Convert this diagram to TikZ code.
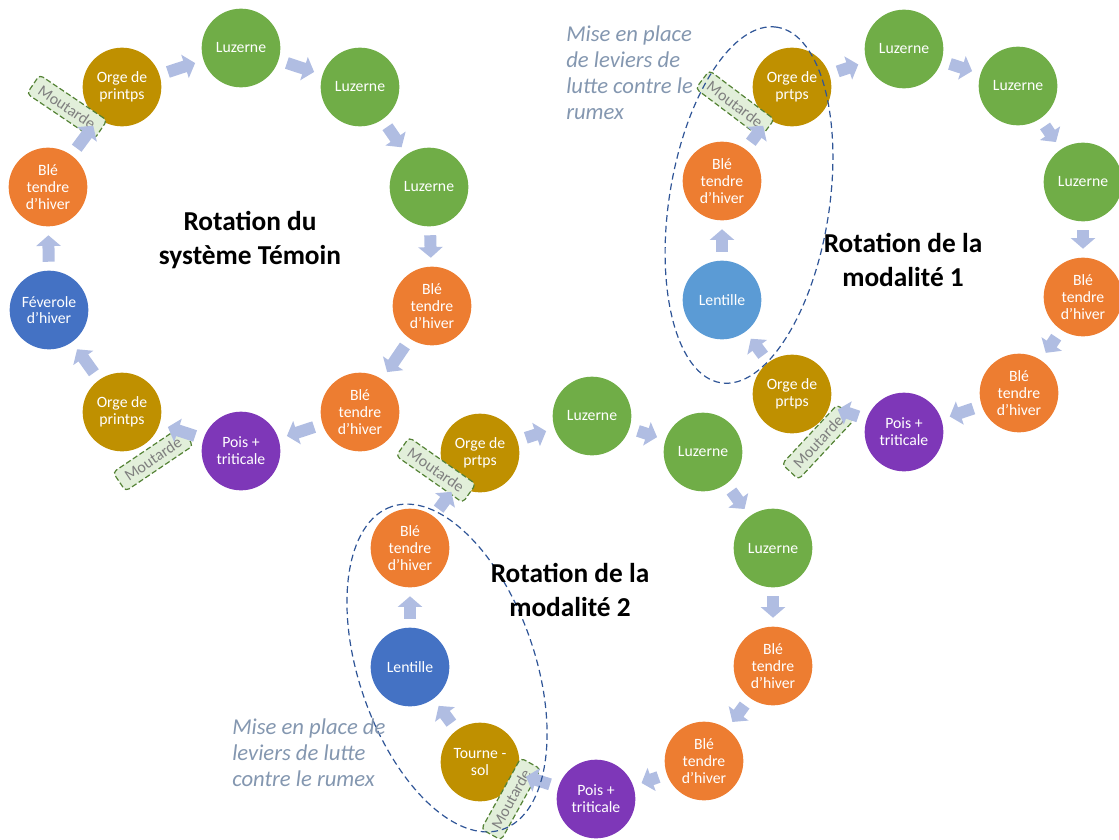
\documentclass[tikz,border=0pt]{standalone}
\usepackage{fontspec}
\setmainfont{Carlito}
\usetikzlibrary{positioning,arrows.meta,shapes.geometric}

\definecolor{c_orange}{HTML}{ED7D31}
\definecolor{c_green}{HTML}{70AD47}
\definecolor{c_gold}{HTML}{BF9000}
\definecolor{c_blue}{HTML}{4472C4}
\definecolor{c_lightblue}{HTML}{5B9BD5}
\definecolor{c_purple}{HTML}{7E37B8}
\definecolor{c_arrow}{HTML}{B0BDE2}
\definecolor{c_mfill}{HTML}{E2EFDA}
\definecolor{c_mborder}{HTML}{548235}
\definecolor{c_mtext}{HTML}{7F7F7F}
\definecolor{c_zone}{HTML}{2F5597}
\definecolor{c_note}{HTML}{8497B0}

\tikzset{
        % Crops of the rotation
        node_crop/.style={circle, fill=#1, text=white, align=center, inner sep=0pt,
            minimum size=59pt, font=\fontsize{11.8}{12.6}\selectfont},
        % Block arrows between crops
        arrow_block/.style={draw=c_arrow, line width=9pt, -{Triangle[width=18pt,length=8pt]},
            shorten <=6.5pt, shorten >=6.5pt},
        % Cover crop (mustard)
        node_moutarde/.style={rectangle, rounded corners=3pt, draw=c_mborder, line width=0.9pt,
            dash pattern=on 4pt off 2pt, fill=c_mfill, text=c_mtext, inner sep=1pt,
            minimum width=61pt, minimum height=17pt, font=\fontsize{12}{12}\selectfont},
        % Dashed zone of the levers
        node_zone/.style={ellipse, draw=c_zone, line width=0.9pt, dash pattern=on 5pt off 3pt,
            inner sep=0pt},
        % Titles and notes
        node_title/.style={align=center, font=\bfseries\fontsize{20.5}{26}\selectfont},
        node_note/.style={align=left, anchor=north west, inner sep=0pt, text=c_note,
            font=\itshape\fontsize{17}{19.5}\selectfont}
}

\begin{document}
\begin{tikzpicture}[x=0.75pt, y=-0.75pt]
    \useasboundingbox (0,0) rectangle (1119,839);

    % Rotation du systeme temoin
    \node[node_crop=c_gold] (t_orge1) at (122,87) {Orge de\\printps};
    \node[node_crop=c_green] (t_luz1) at (241,48) {Luzerne};
    \node[node_crop=c_green] (t_luz2) at (360,87) {Luzerne};
    \node[node_crop=c_green] (t_luz3) at (429,187) {Luzerne};
    \node[node_crop=c_orange] (t_ble1) at (432,306) {Blé\\tendre\\d’hiver};
    \node[node_crop=c_orange] (t_ble2) at (360,412) {Blé\\tendre\\d’hiver};
    \node[node_crop=c_purple] (t_pois) at (241,451) {Pois +\\triticale};
    \node[node_crop=c_gold] (t_orge2) at (122,412) {Orge de\\printps};
    \node[node_crop=c_blue] (t_fev) at (49,310) {Féverole\\d’hiver};
    \node[node_crop=c_orange] (t_ble3) at (48,187) {Blé\\tendre\\d’hiver};

    % Rotation de la modalite 1
    \node[node_crop=c_gold] (a_orge1) at (792,87) {Orge de\\prtps};
    \node[node_crop=c_green] (a_luz1) at (904,49) {Luzerne};
    \node[node_crop=c_green] (a_luz2) at (1018,86) {Luzerne};
    \node[node_crop=c_green] (a_luz3) at (1083,182) {Luzerne};
    \node[node_crop=c_orange] (a_ble1) at (1083,297) {Blé\\tendre\\d’hiver};
    \node[node_crop=c_orange] (a_ble2) at (1019,393) {Blé\\tendre\\d’hiver};
    \node[node_crop=c_purple] (a_pois) at (904,432) {Pois +\\triticale};
    \node[node_crop=c_gold] (a_orge2) at (792,394) {Orge de\\prtps};
    \node[node_crop=c_lightblue] (a_lent) at (722,300) {Lentille};
    \node[node_crop=c_orange] (a_ble3) at (722,181) {Blé\\tendre\\d’hiver};

    % Rotation de la modalite 2
    \node[node_crop=c_gold] (b_orge1) at (480,453) {Orge de\\prtps};
    \node[node_crop=c_green] (b_luz1) at (592,416) {Luzerne};
    \node[node_crop=c_green] (b_luz2) at (703,452) {Luzerne};
    \node[node_crop=c_green] (b_luz3) at (773,548) {Luzerne};
    \node[node_crop=c_orange] (b_ble1) at (773,666) {Blé\\tendre\\d’hiver};
    \node[node_crop=c_orange] (b_ble2) at (704,761) {Blé\\tendre\\d’hiver};
    \node[node_crop=c_purple] (b_pois) at (596,799) {Pois +\\triticale};
    \node[node_crop=c_gold] (b_tourne) at (480,762) {Tourne -\\sol};
    \node[node_crop=c_blue] (b_lent) at (410,667) {Lentille};
    \node[node_crop=c_orange] (b_ble3) at (410,548) {Blé\\tendre\\d’hiver};

    % Moutarde
    \node[node_moutarde, rotate=-34] (m_t1) at (67,107) {Moutarde};
    \node[node_moutarde, rotate=34] (m_t2) at (153,459) {Moutarde};
    \node[node_moutarde, rotate=-35] (m_b1) at (436,470) {Moutarde};
    \node[node_moutarde, rotate=-37] (m_a1) at (735,104) {Moutarde};
    \node[node_moutarde, rotate=47] (m_a2) at (818,442) {Moutarde};
    \node[node_moutarde, rotate=61] (m_b2) at (511,799) {Moutarde};

    % Arrows
    \foreach \from/\to in {t_orge1/t_luz1, t_luz1/t_luz2, t_luz2/t_luz3, t_luz3/t_ble1,
            t_ble1/t_ble2, t_ble2/t_pois, t_pois/t_orge2, t_orge2/t_fev, t_fev/t_ble3, t_ble3/t_orge1}
        \draw[arrow_block] (\from) -- (\to);
    \foreach \from/\to in {a_orge1/a_luz1, a_luz1/a_luz2, a_luz2/a_luz3, a_luz3/a_ble1,
            a_ble1/a_ble2, a_ble2/a_pois, a_pois/a_orge2, a_orge2/a_lent, a_lent/a_ble3, a_ble3/a_orge1}
        \draw[arrow_block] (\from) -- (\to);
    \foreach \from/\to in {b_orge1/b_luz1, b_luz1/b_luz2, b_luz2/b_luz3, b_luz3/b_ble1,
            b_ble1/b_ble2, b_ble2/b_pois, b_pois/b_tourne, b_tourne/b_lent, b_lent/b_ble3, b_ble3/b_orge1}
        \draw[arrow_block] (\from) -- (\to);

    % Zones
    \node[node_zone, minimum width=270pt, minimum height=120pt, rotate=81] (z_a) at (749,205) {};
    \node[node_zone, minimum width=256pt, minimum height=132pt, rotate=109] (z_b) at (447,668) {};

    % Titles
    \node[node_title] (title_t) at (250,240) {Rotation du\\système Témoin};
    \node[node_title] (title_a) at (903,260) {Rotation de la\\modalité 1};
    \node[node_title] (title_b) at (570,590) {Rotation de la\\modalité 2};

    % Notes
    \node[node_note] (note_a) at (566,25) {Mise en place\\de leviers de\\lutte contre le\\rumex};
    \node[node_note] (note_b) at (232,718) {Mise en place de\\leviers de lutte\\contre le rumex};
\end{tikzpicture}
\end{document}
